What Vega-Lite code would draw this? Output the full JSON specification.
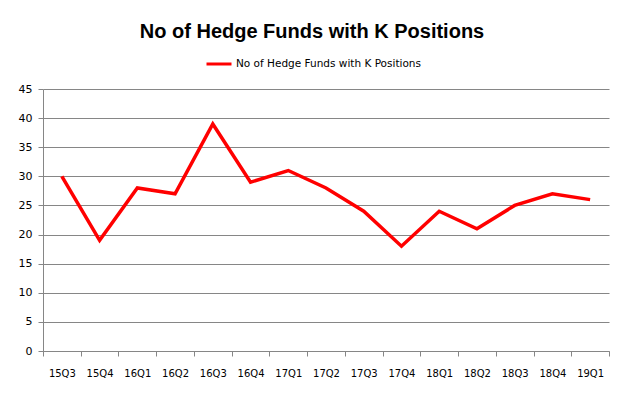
{
  "$schema": "https://vega.github.io/schema/vega-lite/v6.json",
  "autosize": {"type": "none"},
  "width": 566,
  "height": 262,
  "padding": {"left": 43, "top": 89, "right": 17, "bottom": 46},
  "background": "white",
  "title": {
    "text": "No of Hedge Funds with K Positions",
    "font": "Liberation Sans",
    "fontSize": 20,
    "fontWeight": "bold",
    "color": "#000000",
    "anchor": "middle",
    "dx": -14,
    "offset": 8
  },
  "data": {
    "values": [
      {"quarter": "15Q3", "funds": 30},
      {"quarter": "15Q4", "funds": 19},
      {"quarter": "16Q1", "funds": 28},
      {"quarter": "16Q2", "funds": 27},
      {"quarter": "16Q3", "funds": 39},
      {"quarter": "16Q4", "funds": 29},
      {"quarter": "17Q1", "funds": 31},
      {"quarter": "17Q2", "funds": 28},
      {"quarter": "17Q3", "funds": 24},
      {"quarter": "17Q4", "funds": 18},
      {"quarter": "18Q1", "funds": 24},
      {"quarter": "18Q2", "funds": 21},
      {"quarter": "18Q3", "funds": 25},
      {"quarter": "18Q4", "funds": 27},
      {"quarter": "19Q1", "funds": 26}
    ]
  },
  "transform": [{"calculate": "'No of Hedge Funds with K Positions'", "as": "series"}],
  "mark": {"type": "line", "strokeWidth": 3.5, "strokeJoin": "miter"},
  "encoding": {
    "x": {
      "field": "quarter",
      "type": "ordinal",
      "sort": null,
      "scale": {"type": "band", "paddingInner": 0, "paddingOuter": 0},
      "axis": {
        "title": null,
        "labelAngle": 0,
        "tickBand": "extent",
        "grid": false,
        "domainColor": "#868686",
        "tickColor": "#868686",
        "tickSize": 5,
        "labelPadding": 12,
        "labelFont": "DejaVu Sans",
        "labelFontSize": 10,
        "labelColor": "#000000"
      }
    },
    "y": {
      "field": "funds",
      "type": "quantitative",
      "scale": {"domain": [0, 45]},
      "axis": {
        "title": null,
        "values": [0, 5, 10, 15, 20, 25, 30, 35, 40, 45],
        "grid": true,
        "gridColor": "#868686",
        "gridWidth": 1,
        "domainColor": "#868686",
        "tickColor": "#868686",
        "tickSize": 5,
        "labelPadding": 6,
        "labelFont": "DejaVu Sans",
        "labelFontSize": 11,
        "labelColor": "#000000"
      }
    },
    "color": {
      "field": "series",
      "type": "nominal",
      "scale": {"range": ["#FF0000"]},
      "legend": {
        "title": null,
        "orient": "none",
        "legendX": 162,
        "legendY": -39,
        "symbolType": "stroke",
        "symbolStrokeWidth": 3,
        "symbolSize": 625,
        "labelOffset": 3,
        "labelFont": "DejaVu Sans",
        "labelFontSize": 10.5,
        "labelColor": "#000000",
        "labelLimit": 0
      }
    }
  },
  "config": {
    "view": {"stroke": null}
  }
}
